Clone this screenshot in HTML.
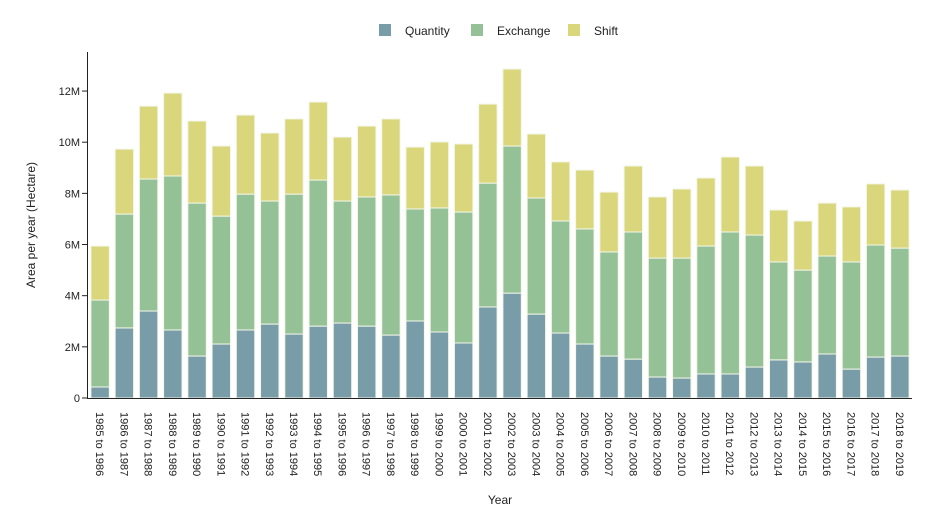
<!DOCTYPE html>
<html><head><meta charset="utf-8"><style>
body{margin:0;background:#fff;}
svg{font-family:"Liberation Sans","DejaVu Sans",sans-serif;}
</style></head><body>
<svg id="chart" width="935" height="512" viewBox="0 0 935 512"></svg>
<script>
const categories=["1985 to 1986","1986 to 1987","1987 to 1988","1988 to 1989","1989 to 1990","1990 to 1991","1991 to 1992","1992 to 1993","1993 to 1994","1994 to 1995","1995 to 1996","1996 to 1997","1997 to 1998","1998 to 1999","1999 to 2000","2000 to 2001","2001 to 2002","2002 to 2003","2003 to 2004","2004 to 2005","2005 to 2006","2006 to 2007","2007 to 2008","2008 to 2009","2009 to 2010","2010 to 2011","2011 to 2012","2012 to 2013","2013 to 2014","2014 to 2015","2015 to 2016","2016 to 2017","2017 to 2018","2018 to 2019"];
const quantity=[0.43,2.74,3.40,2.66,1.64,2.11,2.66,2.89,2.50,2.81,2.93,2.81,2.46,3.01,2.58,2.15,3.56,4.10,3.28,2.54,2.11,1.64,1.52,0.82,0.78,0.94,0.94,1.21,1.49,1.41,1.72,1.13,1.60,1.64];
const exchange=[3.40,4.45,5.16,6.02,5.98,5.00,5.31,4.81,5.47,5.71,4.77,5.05,5.48,4.38,4.85,5.12,4.84,5.75,4.54,4.38,4.50,4.07,4.97,4.65,4.69,5.00,5.55,5.16,3.83,3.59,3.83,4.19,4.38,4.22];
const shift=[2.11,2.54,2.85,3.24,3.21,2.74,3.09,2.66,2.94,3.05,2.50,2.77,2.97,2.42,2.58,2.66,3.09,3.01,2.50,2.31,2.30,2.34,2.58,2.39,2.70,2.66,2.93,2.70,2.03,1.92,2.07,2.15,2.39,2.27];
const yTicks=[0,2,4,6,8,10,12];
const seriesNames=["Quantity","Exchange","Shift"];
const colors=["#789ca8","#95c197","#d9d67b"];
const NS="http://www.w3.org/2000/svg";
const svg=document.getElementById("chart");
const x0=88,x1=912,yBase=398,pxPerM=25.58;
const band=(x1-x0)/categories.length;
const y=v=>yBase-v*pxPerM;
const xb=i=>x0+i*band;
function mk(tag,attrs,parent){const e=document.createElementNS(NS,tag);for(const k in attrs)e.setAttribute(k,attrs[k]);(parent||svg).appendChild(e);return e;}
// bars
const series=[quantity,exchange,shift];
categories.forEach((c,i)=>{
  const g=mk("g",{});
  
  
  let cum=0;
  series.forEach((s,k)=>{
    const v=s[i];
    const r=mk("rect",{x:xb(i)+band*0.12,y:y(cum+v),width:band*0.76,height:v*pxPerM,fill:colors[k],stroke:"#f3f6e8","stroke-width":1},g);
    
    
    cum+=v;
  });
  const t=mk("text",{x:0,y:0,transform:`translate(${xb(i)+band/2-4},412) rotate(90)`,"font-size":11,fill:"#222"});
  t.textContent=c;
  
  
});
// y axis
const ax=mk("line",{x1:87.5,y1:52,x2:87.5,y2:398,stroke:"#222","stroke-width":1});


const xa=mk("line",{x1:87,y1:398.5,x2:912,y2:398.5,stroke:"#222","stroke-width":1});


yTicks.forEach(v=>{
  const tk=mk("line",{x1:82,y1:y(v),x2:87,y2:y(v),stroke:"#222"});
  
  
  const t=mk("text",{x:80,y:y(v)+4,"text-anchor":"end","font-size":11,fill:"#222"});
  t.textContent=v===0?"0":v+"M";
  
  
});
const yt=mk("text",{x:0,y:0,transform:"translate(35,225) rotate(-90)","text-anchor":"middle","font-size":12,fill:"#222"});
yt.textContent="Area per year (Hectare)";


const xt=mk("text",{x:500,y:504,"text-anchor":"middle","font-size":12,fill:"#222"});
xt.textContent="Year";


// legend
const lx=[379,471,568];
seriesNames.forEach((n,k)=>{
  const g=mk("g",{});
  
  
  mk("rect",{x:lx[k],y:24,width:12,height:12,fill:colors[k]},g);
  const t=mk("text",{x:lx[k]+26,y:35,"font-size":12,fill:"#222"},g);
  t.textContent=n;
});
</script>
</body></html>
